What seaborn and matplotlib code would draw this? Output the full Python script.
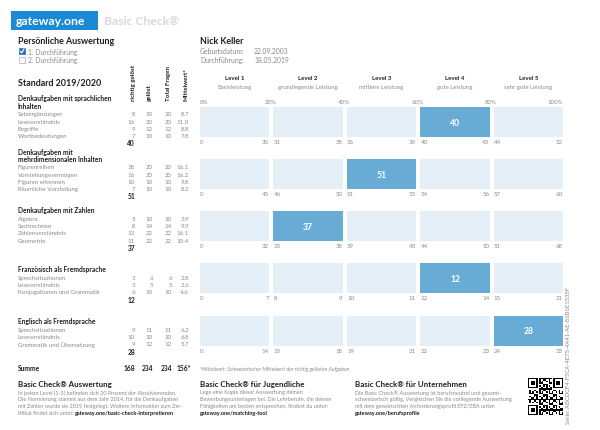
import numpy as np
import pandas as pd
import matplotlib
matplotlib.use("Agg")
import matplotlib.pyplot as plt
import matplotlib.transforms as mtrans
from matplotlib.patches import Rectangle
import seaborn as sns

# ---------------- data ----------------
levels = ["Level 1", "Level 2", "Level 3", "Level 4", "Level 5"]
level_desc = ["Basisleistung", "grundlegende Leistung", "mittlere Leistung",
              "gute Leistung", "sehr gute Leistung"]
percent_labels = ["0%", "20%", "40%", "60%", "80%", "100%"]
column_headers = ["richtig gelöst", "gelöst", "Total Fragen", "Mittelwert*"]

section_titles = ["Denkaufgaben mit sprachlichen\nInhalten",
                  "Denkaufgaben mit\nmehrdimensionalen Inhalten",
                  "Denkaufgaben mit Zahlen",
                  "Französisch als Fremdsprache",
                  "Englisch als Fremdsprache"]
section_items = [
    ["Satzergänzungen", "Leseverständnis", "Begriffe", "Wortbedeutungen"],
    ["Figurenreihen", "Vorstellungsvermögen", "Figuren erkennen", "Räumliche Vorstellung"],
    ["Algebra", "Sachrechnen", "Zahlenverständnis", "Geometrie"],
    ["Sprechsituationen", "Leseverständnis", "Konjugationen und Grammatik"],
    ["Sprechsituationen", "Leseverständnis", "Grammatik und Übersetzung"],
]
richtig_geloest = [[8, 16, 9, 7], [18, 16, 10, 7], [5, 8, 13, 11], [3, 3, 6], [9, 10, 9]]
geloest = [[10, 20, 12, 10], [20, 20, 10, 10], [10, 14, 22, 22], [6, 5, 10], [11, 10, 12]]
total_fragen = [[10, 20, 12, 10], [20, 20, 10, 10], [10, 14, 22, 22], [6, 5, 10], [11, 10, 12]]
mittelwert = [[8.7, 11.0, 8.8, 7.8], [16.1, 16.2, 9.8, 8.2], [3.9, 9.9, 16.1, 10.4],
              [2.8, 2.6, 4.6], [6.2, 6.8, 5.7]]
scores = [40, 51, 37, 12, 28]
level_low = [[0, 31, 36, 40, 44], [0, 46, 51, 54, 57], [0, 33, 39, 44, 51],
             [0, 8, 10, 12, 15], [0, 15, 19, 22, 24]]
level_high = [[30, 35, 39, 43, 52], [45, 50, 53, 56, 60], [32, 38, 43, 50, 68],
              [7, 9, 11, 14, 21], [14, 18, 21, 23, 33]]
summe = ["168", "234", "234", "156*"]

# ---------------- setup ----------------
W, H = 600, 431
sns.set_theme(style="white")
plt.rcParams['font.family'] = ['Lato', 'DejaVu Sans']
fig = plt.figure(figsize=(W / 100, H / 100), dpi=100)
fig.patch.set_facecolor('white')
renderer = fig.canvas.get_renderer()

DARK = '#1e1e1e'
GREY = '#8a8a8a'
LIGHT_BAR = '#e4eff8'
HIT_BAR = '#68acd6'
SMALL = 4.4


def T(x, y, s, size=SMALL, weight='normal', color=GREY, ha='left', va='center', **kw):
    return fig.text(x / W, 1 - y / H, s, fontsize=size, fontweight=weight,
                    color=color, ha=ha, va=va, **kw)


def T2(x, y, s1, s2, size=SMALL):
    t = T(x, y, s1, size=size)
    bb = t.get_window_extent(renderer)
    T(bb.x1 + 1, y, s2, size=size, weight='bold', color=DARK)


def rect(x, y, w, h, **kw):
    fig.patches.append(Rectangle((x / W, 1 - (y + h) / H), w / W, h / H,
                                 transform=fig.transFigure, **kw))


# ---------------- header ----------------
rect(11, 12, 87, 19, facecolor='#1a8ad4', edgecolor='none')
T(16, 21.5, "gateway.one", size=8.8, weight='bold', color='white')
T(104, 21.5, "Basic Check®", size=8.7, weight='bold', color='#d8d8d8')

T(18, 42, "Persönliche Auswertung", size=6.4, weight='bold', color=DARK)
rect(19, 49, 6, 6, facecolor='#2a6fb5', edgecolor='#2a6fb5', linewidth=0.5)
fig.lines.append(plt.Line2D([20.2 / W, 21.8 / W, 24 / W],
                            [1 - 52 / H, 1 - 54 / H, 1 - 50 / H],
                            transform=fig.transFigure, color='white', lw=0.8))
T(28, 52, "1. Durchführung", size=4.9)
rect(19, 58, 6, 6, facecolor='white', edgecolor='#aaaaaa', linewidth=0.5)
T(28, 61, "2. Durchführung", size=4.9)

T(200, 42, "Nick Keller", size=6.4, weight='bold', color=DARK)
T(200, 52, "Geburtsdatum:", size=4.9)
T(254, 52, "22.09.2003", size=4.9)
T(200, 60.5, "Durchführung:", size=4.9)
T(254, 60.5, "18.05.2019", size=4.9)

T(18, 83, "Standard 2019/2020", size=6.4, weight='bold', color=DARK)
col_x = [135, 153, 172, 189]
head_x = [133, 149, 168, 186]
for hx, hname in zip(head_x, column_headers):
    T(hx, 101, hname, size=4.5, weight='bold', color=DARK, rotation=90, ha='center', va='bottom')

# ---------------- left table ----------------
title_y = [99, 152, 211, 270, 322]
STEP = 7.3
for s in range(5):
    lines = section_titles[s].split('\n')
    for j, ln in enumerate(lines):
        T(18, title_y[s] + j * 7.6, ln, size=4.8, weight='bold', color=DARK)
    y0 = title_y[s] + (len(lines) - 1) * 7.6 + 8.2
    for j, item in enumerate(section_items[s]):
        y = y0 + j * STEP
        T(18, y, item)
        vals = [str(richtig_geloest[s][j]), str(geloest[s][j]), str(total_fragen[s][j]),
                f"{mittelwert[s][j]:.1f}"]
        for c, v in enumerate(vals):
            T(col_x[c], y, v, ha='right')
    T(135, y0 + len(section_items[s]) * STEP, str(scores[s]), weight='bold',
      color=DARK, ha='right', size=4.8)

T(18, 369, "Summe", size=4.8, weight='bold', color=DARK)
for c, v in enumerate(summe):
    T(col_x[c] + (2 if c == 3 else 0), 369, v, size=4.8, weight='bold', color=DARK, ha='right')
T(200, 369, "*Mittelwert: Schweizerischer Mittelwert der richtig gelösten Aufgaben",
  size=3.7, style='italic')

# ---------------- bars ----------------
BAR_L, BAR_W, BAR_H = 200, 363, 30
row_tops = [108, 160, 212, 264, 317]
bw = 0.94
for r in range(5):
    ax = fig.add_axes([BAR_L / W, 1 - (row_tops[r] + BAR_H) / H, BAR_W / W, BAR_H / H])
    hit = [lo <= scores[r] <= hi for lo, hi in zip(level_low[r], level_high[r])]
    df = pd.DataFrame({"level": levels, "box": [1] * 5})
    pal = [HIT_BAR if h else LIGHT_BAR for h in hit]
    sns.barplot(data=df, x="level", y="box", hue="level", palette=pal, width=bw,
                saturation=1, legend=False, linewidth=0, ax=ax)
    ax.set_xlim(-bw / 2, 4 + bw / 2)
    ax.set_ylim(0, 1)
    ax.axis('off')
    tr = mtrans.blended_transform_factory(ax.transData, ax.transAxes)
    for i in range(5):
        ax.text(i - bw / 2, -4.8 / BAR_H, str(level_low[r][i]), transform=tr,
                ha='left', va='center', fontsize=SMALL, color=GREY)
        ax.text(i + bw / 2, -4.8 / BAR_H, str(level_high[r][i]), transform=tr,
                ha='right', va='center', fontsize=SMALL, color=GREY)
        if hit[i]:
            ax.text(i, 0.5, str(scores[r]), transform=tr, ha='center', va='center',
                    fontsize=6.2, color='white', fontweight='bold')
    if r == 0:
        for k, lab in enumerate(percent_labels):
            if k == 0:
                xk, ha = -bw / 2, 'left'
            elif k == 5:
                xk, ha = 4 + bw / 2, 'right'
            else:
                xk, ha = k - 0.5 + 0.07, 'right'
            ax.text(xk, 1 + 5 / BAR_H, lab, transform=tr, ha=ha, va='center',
                    fontsize=SMALL, color=GREY)
        for i in range(5):
            ax.text(i, 1 + 30 / BAR_H, levels[i], transform=tr, ha='center', va='center',
                    fontsize=4.4, color=DARK, fontweight='bold')
            ax.text(i, 1 + 21 / BAR_H, level_desc[i], transform=tr, ha='center', va='center',
                    fontsize=4.3, color=GREY)

# ---------------- footer ----------------
FY = 385
FS = 4.0
T(18, FY, "Basic Check® Auswertung", size=5.7, weight='bold', color=DARK)
T(18, FY + 8, "In jedem Level (1-5) befinden sich 20 Prozent der Absolvierenden.", size=FS)
T(18, FY + 15, "Die Normierung stammt aus dem Jahr 2014, für die Denkaufgaben", size=FS)
T(18, FY + 22, "mit Zahlen wurde sie 2019 festgelegt. Weitere Information zum Zer-", size=FS)
T2(18, FY + 29, "tifikat findet sich unter:", "gateway.one/basic-check-interpretieren", size=FS)

T(200, FY, "Basic Check® für Jugendliche", size=5.7, weight='bold', color=DARK)
T(200, FY + 8, "Lege eine Kopie dieser Auswertung deinen", size=FS)
T(200, FY + 15, "Bewerbungsunterlagen bei. Die Lehrberufe, die deinen", size=FS)
T(200, FY + 22, "Fähigkeiten am besten entsprechen, findest du unter:", size=FS)
T(200, FY + 29, "gateway.one/matching-tool", size=FS, weight='bold', color=DARK)

T(355, FY, "Basic Check® für Unternehmen", size=5.7, weight='bold', color=DARK)
T(355, FY + 8, "Die Basic Check® Auswertung ist berufsneutral und gesamt-", size=FS)
T(355, FY + 15, "schweizerisch gültig. Vergleichen Sie die vorliegende Auswertung", size=FS)
T(355, FY + 22, "mit dem gewünschten Anforderungsprofil EFZ/EBA unter:", size=FS)
T(355, FY + 29, "gateway.one/berufsprofile", size=FS, weight='bold', color=DARK)

# QR-like code (decorative)
n = 25
ii, jj = np.mgrid[0:n, 0:n]
qr = ((ii * ii * 3 + jj * 7 + ii * jj * 5) % 7 < 3).astype(float)
for (a, b) in [(0, 0), (0, n - 7), (n - 7, 0)]:
    qr[max(a - 1, 0):a + 8, max(b - 1, 0):b + 8] = 0
    qr[a:a + 7, b:b + 7] = 1
    qr[a + 1:a + 6, b + 1:b + 6] = 0
    qr[a + 2:a + 5, b + 2:b + 5] = 1
axq = fig.add_axes([528 / W, 1 - 416 / H, 35 / W, 37 / H])
axq.imshow(qr, cmap='Greys', interpolation='nearest', aspect='auto', vmin=0, vmax=1)
axq.axis('off')

T(569, 424, "Serie: ABCDCF4-F5CA-4E75-4A41-AE-86B6E1535F", size=4.2, rotation=90,
  ha='center', va='bottom')

fig.savefig("out.png", dpi=100, facecolor='white')
